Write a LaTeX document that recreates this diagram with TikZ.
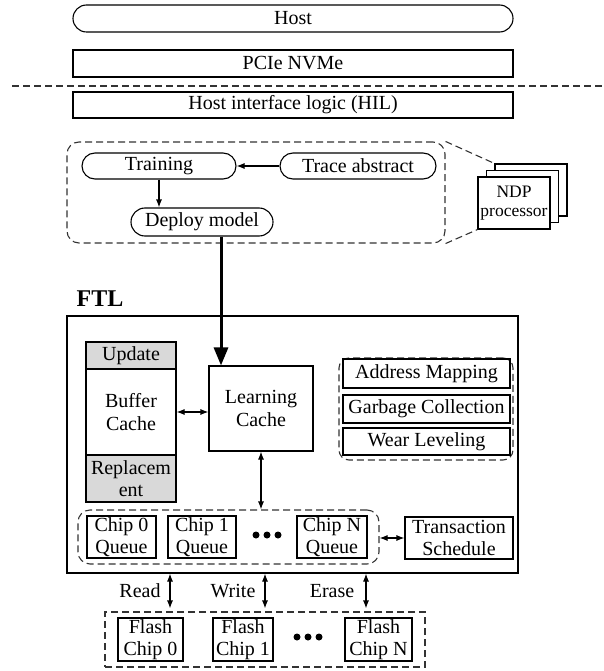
\documentclass[tikz,border=0pt]{standalone}
\usepackage{fontspec}
\setmainfont{Liberation Serif}
\usetikzlibrary{arrows.meta}
\begin{document}
\begin{tikzpicture}[x=1pt, y=-1pt,
  every node/.style={font=\fontsize{20}{22.5}\selectfont, inner sep=0pt, align=center},
  box/.style={draw, line width=1.1pt},
  pill/.style={draw, line width=1.1pt, rounded corners=13pt},
  grp/.style={draw=black!80, line width=1.1pt, dash pattern=on 7pt off 4pt},
  shade/.style={box, fill=gray!30},
  link/.style={line width=1.1pt, {Latex[length=8pt,width=6pt]}-{Latex[length=8pt,width=6pt]}},
  feed/.style={line width=1.1pt, -{Latex[length=8pt,width=6pt]}}]
\useasboundingbox (0,0) rectangle (604,671);

% host side
\node[pill, rounded corners=13.5pt, minimum width=440pt, minimum height=27pt] (host) at (293,18.5) {Host};
\node[box, minimum width=440pt, minimum height=27pt] (pcie) at (293,63.5) {PCIe NVMe};
\draw[grp] (12,86) -- (602,86);
\node[box, minimum width=440pt, minimum height=26pt] (hil) at (293,105) {Host interface logic (HIL)};

% learning module
\node[grp, rounded corners=12pt, minimum width=378pt, minimum height=101pt] (mlbox) at (256,192.5) {};
\node[pill, minimum width=154pt, minimum height=26pt] (train) at (159,166) {Training};
\node[pill, minimum width=156pt, minimum height=26pt] (trace) at (358,166) {Trace abstract};
\node[pill, rounded corners=14pt, minimum width=142pt, minimum height=28pt] (deploy) at (202,222) {Deploy model};
\draw[feed] (trace) -- (train);
\draw[feed] (train.south) -- (train.south |- deploy.north);

% NDP processors
\foreach \k in {2,1}
  \node[box, fill=white, minimum width=72pt, minimum height=52pt] (ndp\k) at (514+8.5*\k,203-6.5*\k) {};
\node[box, fill=white, minimum width=72pt, minimum height=52pt, font=\fontsize{17.5}{19.5}\selectfont] (ndp) at (514,203) {NDP\\processor};
\draw[grp] (mlbox.north east) -- (ndp2.north west);
\draw[grp] (mlbox.south east) -- (ndp.south west);

% FTL
\node[font=\bfseries\fontsize{24}{26}\selectfont] (ftltitle) at (100,299) {FTL};
\node[box, minimum width=451pt, minimum height=257pt] (ftl) at (292.5,444.5) {};

\node[shade, minimum width=90pt, minimum height=27pt] (upd) at (131,355.5) {Update};
\node[box, minimum width=90pt, minimum height=86pt] (bcache) at (131,412) {Buffer\\Cache};
\node[shade, minimum width=90pt, minimum height=47pt] (repl) at (131,478.5) {Replacem\\ent};
\node[box, minimum width=104pt, minimum height=85pt] (lcache) at (261,408.5) {Learning\\Cache};
\draw[link] (bcache.east) -- (lcache.west |- bcache.east);

\coordinate (drop) at ([xshift=19pt]deploy.south);
\draw[line width=3pt, -{Triangle[length=18pt,width=14pt]}] (drop) -- (drop |- lcache.north);

\node[grp, rounded corners=10pt, minimum width=174pt, minimum height=102pt] (mgmt) at (426,409) {};
\node[box, minimum width=167pt, minimum height=29pt] (amap) at (426.5,373.5) {Address Mapping};
\node[box, minimum width=167pt, minimum height=28pt] (gc) at (426.5,409) {Garbage Collection};
\node[box, minimum width=167pt, minimum height=27pt] (wl) at (426.5,441.5) {Wear Leveling};

% chip queues
\node[grp, rounded corners=12pt, minimum width=301pt, minimum height=54pt] (qgroup) at (228.5,537) {};
\node[box, minimum width=69pt, minimum height=42pt] (q0) at (121.5,537) {Chip 0\\Queue};
\node[box, minimum width=68pt, minimum height=42pt] (q1) at (202,537) {Chip 1\\Queue};
\node[box, minimum width=70pt, minimum height=42pt] (qn) at (332,537) {Chip N\\Queue};
\coordinate (qdots) at (267,535);
\foreach \d in {-11,0,11}
  \fill ([xshift=\d pt]qdots) circle (3.5pt);
\node[box, minimum width=108pt, minimum height=42pt] (trans) at (459,538) {Transaction\\Schedule};
\draw[link] (qgroup.east |- trans.west) -- (trans.west);
\draw[link] (lcache.south) -- (lcache.south |- qgroup.north);

% flash chips
\node[grp, minimum width=320pt, minimum height=55pt] (fgroup) at (265,639.5) {};
\node[box, minimum width=65pt, minimum height=43pt] (f0) at (150.5,639.5) {Flash\\Chip 0};
\node[box, minimum width=60pt, minimum height=43pt] (f1) at (243,639.5) {Flash\\Chip 1};
\node[box, minimum width=67pt, minimum height=43pt] (fn) at (378.5,639.5) {Flash\\Chip N};
\coordinate (fdots) at (308,637);
\foreach \d in {-11,0,11}
  \fill ([xshift=\d pt]fdots) circle (3.5pt);

\foreach \x/\op/\lx in {170/Read/140, 265/Write/233, 366/Erase/332} {
  \draw[link, shorten >=3pt] (\x,0 |- ftl.south) -- (\x,0 |- fgroup.north);
  \node (\op) at (\lx,591) {\op};
}
\end{tikzpicture}
\end{document}
